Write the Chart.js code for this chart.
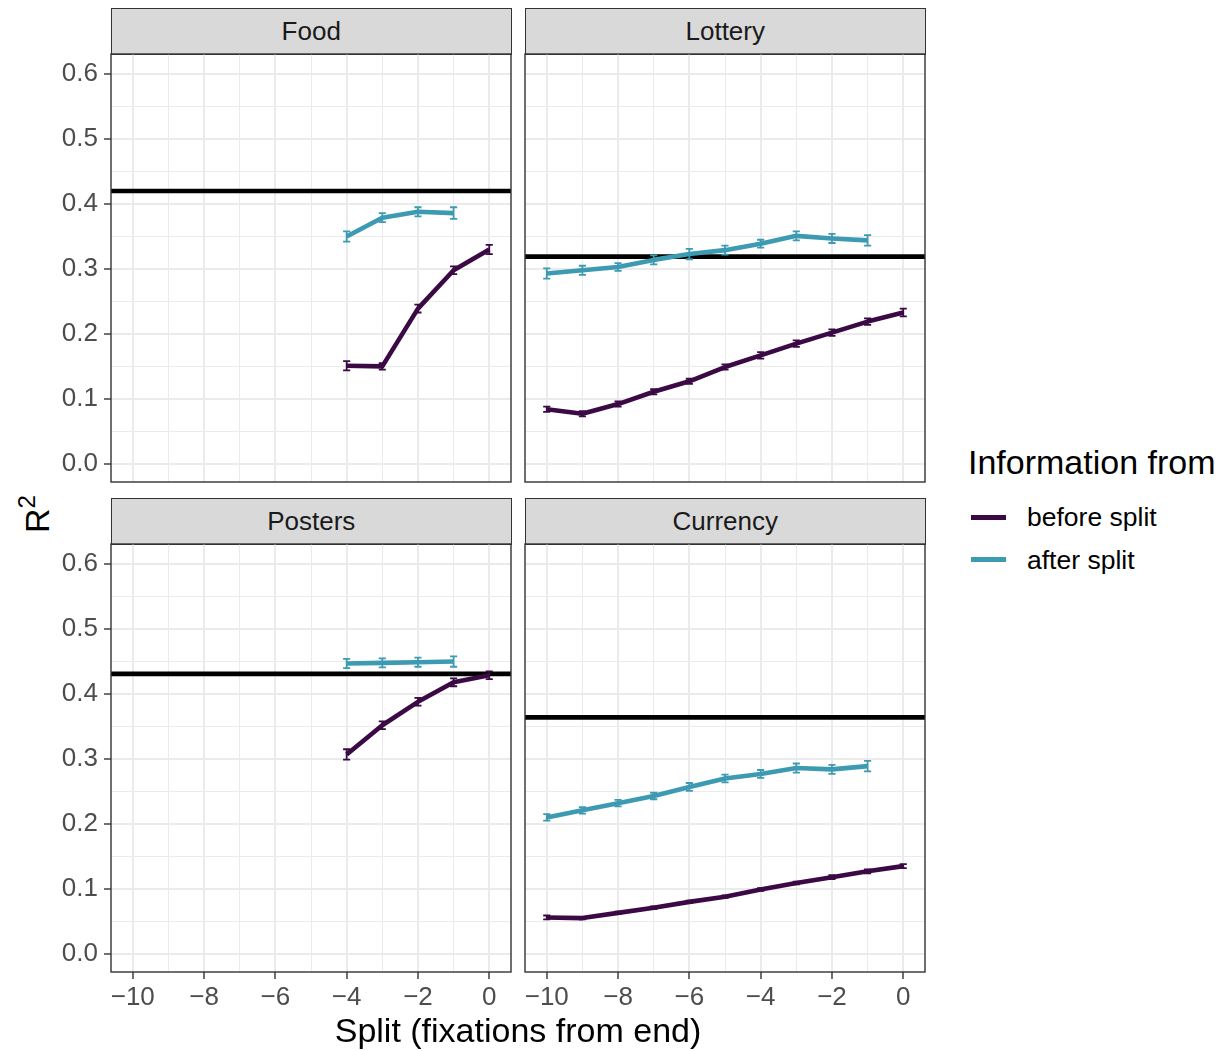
<!DOCTYPE html>
<html>
<head>
<meta charset="utf-8">
<script src="https://cdn.jsdelivr.net/npm/chart.js@4.4.0/dist/chart.umd.min.js"></script>
<style>
    body { margin: 0; background: #fff; width: 1227px; height: 1051px; position: relative; overflow: hidden;
           font-family: "Liberation Sans", Arial, sans-serif; }
    canvas { position: absolute; }
    .strip { position: absolute; background: #d9d9d9; border: 1.4px solid #333; box-sizing: border-box;
             text-align: center; color: #1a1a1a; font-size: 26px; line-height: 44px; }
    .txt { position: absolute; white-space: nowrap; color: #000; }
    .key { position: absolute; width: 35px; height: 4.5px; }
</style>
</head>
<body>
<div class="strip" style="left:111px;top:8px;width:400.5px;height:47px;">Food</div>
<div class="strip" style="left:525px;top:8px;width:400.5px;height:47px;">Lottery</div>
<div class="strip" style="left:111px;top:498px;width:400.5px;height:47px;">Posters</div>
<div class="strip" style="left:525px;top:498px;width:400.5px;height:47px;">Currency</div>

<canvas id="food" width="513" height="432" style="left:0;top:52px;"></canvas>
<canvas id="lottery" width="404" height="432" style="left:523px;top:52px;"></canvas>
<canvas id="posters" width="513" height="470" style="left:0;top:542px;"></canvas>
<canvas id="currency" width="404" height="470" style="left:523px;top:542px;"></canvas>

<div class="txt" style="left:36px;top:514px;font-size:34px;transform:translate(-50%,-50%) rotate(-90deg);">R<sup style="font-size:24px;position:relative;top:-2px;">2</sup></div>
<div class="txt" style="left:518px;top:1030px;font-size:34px;transform:translate(-50%,-50%);">Split (fixations from end)</div>

<div class="txt" style="left:968px;top:462px;font-size:34px;transform:translateY(-50%);">Information from</div>
<div class="key" style="left:971px;top:515px;background:#3b0a45;"></div>
<div class="txt" style="left:1027px;top:517px;font-size:26.5px;transform:translateY(-50%);">before split</div>
<div class="key" style="left:971px;top:557px;background:#3c9ab2;"></div>
<div class="txt" style="left:1027px;top:560px;font-size:26.5px;transform:translateY(-50%);">after split</div>

<script>
// x positions (fixations from end)
const splits = [-10, -9, -8, -7, -6, -5, -4, -3, -2, -1, 0];
const xTickLabels = ['\u221210', '\u22128', '\u22126', '\u22124', '\u22122', '0'];
const yTicks = [0, 0.1, 0.2, 0.3, 0.4, 0.5, 0.6];
const yTickLabels = ['0.0', '0.1', '0.2', '0.3', '0.4', '0.5', '0.6'];

// Food
const foodBefore    = [null, null, null, null, null, null, 0.151, 0.150, 0.239, 0.298, 0.330];
const foodBeforeErr = [null, null, null, null, null, null, 0.007, 0.005, 0.006, 0.006, 0.007];
const foodAfter     = [null, null, null, null, null, null, 0.350, 0.379, 0.388, 0.386, null];
const foodAfterErr  = [null, null, null, null, null, null, 0.008, 0.007, 0.007, 0.009, null];
const foodBaseline = 0.42;

// Lottery
const lotteryBefore    = [0.084, 0.077, 0.092, 0.111, 0.127, 0.149, 0.167, 0.185, 0.202, 0.219, 0.233];
const lotteryBeforeErr = [0.004, 0.004, 0.004, 0.004, 0.004, 0.004, 0.005, 0.005, 0.005, 0.005, 0.006];
const lotteryAfter     = [0.293, 0.298, 0.303, 0.314, 0.323, 0.329, 0.339, 0.351, 0.347, 0.344, null];
const lotteryAfterErr  = [0.008, 0.007, 0.006, 0.007, 0.008, 0.007, 0.006, 0.007, 0.007, 0.008, null];
const lotteryBaseline = 0.319;

// Posters
const postersBefore    = [null, null, null, null, null, null, 0.307, 0.352, 0.388, 0.418, 0.429];
const postersBeforeErr = [null, null, null, null, null, null, 0.008, 0.006, 0.006, 0.006, 0.006];
const postersAfter     = [null, null, null, null, null, null, 0.447, 0.448, 0.449, 0.450, null];
const postersAfterErr  = [null, null, null, null, null, null, 0.007, 0.007, 0.007, 0.008, null];
const postersBaseline = 0.431;

// Currency
const currencyBefore    = [0.056, 0.055, 0.063, 0.071, 0.080, 0.088, 0.099, 0.109, 0.118, 0.127, 0.135];
const currencyBeforeErr = [0.003, 0.002, 0.002, 0.002, 0.002, 0.002, 0.002, 0.002, 0.003, 0.003, 0.003];
const currencyAfter     = [0.210, 0.221, 0.232, 0.243, 0.257, 0.270, 0.277, 0.286, 0.284, 0.289, null];
const currencyAfterErr  = [0.005, 0.005, 0.005, 0.005, 0.006, 0.006, 0.006, 0.007, 0.007, 0.008, null];
const currencyBaseline = 0.364;

const beforeColor = '#3b0a45';
const afterColor = '#3c9ab2';
const xMin = -10.61, xMax = 0.61;
const yMin = -0.028, yMax = 0.631;
const capHalf = 0.1;

function points(values, errs) {
    return splits
        .map((x, i) => ({ x: x, y: values[i], err: errs[i] }))
        .filter(p => p.y !== null);
}

// error bars drawn with the chart's scales
const errorBars = {
    id: 'errorBars',
    afterDatasetsDraw(chart) {
        const ctx = chart.ctx;
        const xs = chart.scales.x, ys = chart.scales.y;
        ctx.save();
        ctx.lineWidth = 1.8;
        chart.data.datasets.forEach(ds => {
            if (!ds.hasErrors) return;
            ctx.strokeStyle = ds.borderColor;
            ds.data.forEach(p => {
                const x = xs.getPixelForValue(p.x);
                const xl = xs.getPixelForValue(p.x - capHalf);
                const xr = xs.getPixelForValue(p.x + capHalf);
                const yt = ys.getPixelForValue(p.y + p.err);
                const yb = ys.getPixelForValue(p.y - p.err);
                ctx.beginPath();
                ctx.moveTo(x, yt); ctx.lineTo(x, yb);
                ctx.moveTo(xl, yt); ctx.lineTo(xr, yt);
                ctx.moveTo(xl, yb); ctx.lineTo(xr, yb);
                ctx.stroke();
            });
        });
        ctx.restore();
    }
};

const panelBorder = {
    id: 'panelBorder',
    afterDraw(chart) {
        const a = chart.chartArea, ctx = chart.ctx;
        ctx.save();
        ctx.strokeStyle = '#333333';
        ctx.lineWidth = 1.4;
        ctx.strokeRect(a.left, a.top, a.right - a.left, a.bottom - a.top);
        ctx.restore();
    }
};

function makePanel(id, before, beforeErr, after, afterErr, baseline, showX, showY) {
    const tickFont = { family: '"Liberation Sans", Arial, sans-serif', size: 26 };
    new Chart(document.getElementById(id), {
        type: 'line',
        data: {
            datasets: [
                {
                    data: points(before, beforeErr), hasErrors: true,
                    borderColor: beforeColor, borderWidth: 4.6, pointRadius: 0,
                    borderJoinStyle: 'round', order: 1
                },
                {
                    data: points(after, afterErr), hasErrors: true,
                    borderColor: afterColor, borderWidth: 4.6, pointRadius: 0,
                    borderJoinStyle: 'round', order: 2
                },
                {
                    data: [{ x: xMin, y: baseline }, { x: xMax, y: baseline }],
                    borderColor: '#000000', borderWidth: 4.6, pointRadius: 0, order: 3
                }
            ]
        },
        options: {
            responsive: false,
            animation: false,
            events: [],
            layout: { padding: { top: 2, right: 2, left: 0, bottom: 0 } },
            plugins: { legend: { display: false }, tooltip: { enabled: false } },
            scales: {
                x: {
                    type: 'linear', min: xMin, max: xMax,
                    afterBuildTicks: s => { s.ticks = splits.map(v => ({ value: v })); },
                    afterFit: s => {
                        s.height = showX ? 40 : 2;
                        s.paddingLeft = 0; s.paddingRight = 0;
                    },
                    border: { display: false },
                    grid: {
                        color: '#ebebeb',
                        lineWidth: c => (c.tick && c.tick.value % 2 === 0) ? 2 : 1,
                        drawTicks: showX, tickLength: 7, tickWidth: 1.4,
                        tickColor: c => (c.tick && c.tick.value % 2 === 0) ? '#333333' : 'rgba(0,0,0,0)'
                    },
                    ticks: {
                        display: showX, autoSkip: false, maxRotation: 0, padding: 3,
                        color: '#4d4d4d', font: tickFont,
                        callback: v => v % 2 === 0 ? xTickLabels[(v + 10) / 2] : ''
                    }
                },
                y: {
                    min: yMin, max: yMax,
                    afterBuildTicks: s => {
                        const t = [];
                        yTicks.forEach((v, i) => {
                            t.push({ value: v, major: true });
                            if (i < yTicks.length - 1) t.push({ value: v + 0.05, major: false });
                        });
                        s.ticks = t;
                    },
                    afterFit: s => {
                        s.width = showY ? 111 : 2;
                        s.paddingTop = 0; s.paddingBottom = 0;
                    },
                    border: { display: false },
                    grid: {
                        color: '#ebebeb',
                        lineWidth: c => (c.tick && c.tick.major) ? 2 : 1,
                        drawTicks: showY, tickLength: 7, tickWidth: 1.4,
                        tickColor: c => (c.tick && c.tick.major) ? '#333333' : 'rgba(0,0,0,0)'
                    },
                    ticks: {
                        display: showY, autoSkip: false, padding: 6,
                        color: '#4d4d4d', font: tickFont,
                        callback: (v, i) => {
                            const k = yTicks.findIndex(t => Math.abs(t - v) < 1e-6);
                            return k >= 0 ? yTickLabels[k] : '';
                        }
                    }
                }
            }
        },
        plugins: [errorBars, panelBorder]
    });
}

makePanel('food', foodBefore, foodBeforeErr, foodAfter, foodAfterErr, foodBaseline, false, true);
makePanel('lottery', lotteryBefore, lotteryBeforeErr, lotteryAfter, lotteryAfterErr, lotteryBaseline, false, false);
makePanel('posters', postersBefore, postersBeforeErr, postersAfter, postersAfterErr, postersBaseline, true, true);
makePanel('currency', currencyBefore, currencyBeforeErr, currencyAfter, currencyAfterErr, currencyBaseline, true, false);
</script>
</body>
</html>
